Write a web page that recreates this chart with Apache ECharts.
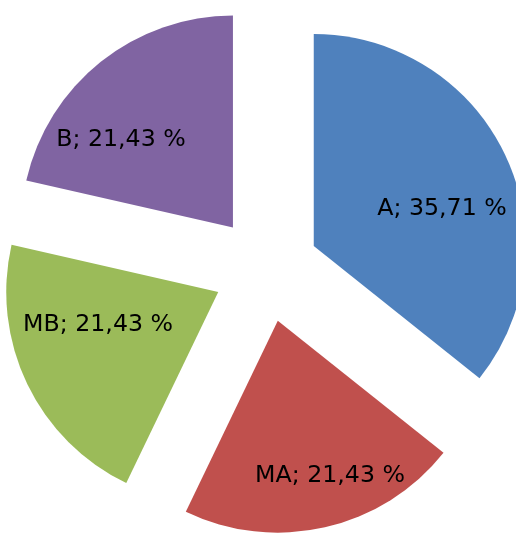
<!DOCTYPE html>
<html>
<head>
<meta charset="utf-8">
<script src="https://cdn.jsdelivr.net/npm/echarts@6/dist/echarts.min.js"></script>
<style>
  html, body { margin: 0; padding: 0; background: #fff; }
  #chart { width: 516px; height: 534px; }
</style>
</head>
<body>
<div id="chart"></div>
<script>
  // categories + counts (A = 5/14, others 3/14)
  var categories = ['A', 'MA', 'MB', 'B'];
  var values = [5, 3, 3, 3];
  var colors = ['#4F81BD', '#C0504D', '#9BBB59', '#8064A2'];
  // label nudges from the default inside spot (best-fit look)
  var labelNudge = [[30, 10], [28, 49], [-22, -14], [-44, -2]];

  var chart = echarts.init(document.getElementById('chart'));

  var data = categories.map(function (name, i) {
    return { name: name, value: values[i], selected: true, itemStyle: { color: colors[i] } };
  });

  chart.setOption({
    backgroundColor: '#fff',
    animation: false,
    series: [{
      type: 'pie',
      center: [266, 269],
      radius: [0, 212],
      startAngle: 90,
      clockwise: true,
      selectedMode: 'multiple',
      selectedOffset: 53,
      avoidLabelOverlap: false,
      label: {
        show: true,
        position: 'inside',
        color: '#000',
        fontFamily: 'DejaVu Sans',
        fontSize: 23.7,
        formatter: function (p) {
          return p.name + '; ' + p.percent.toFixed(2).replace('.', ',') + ' %';
        }
      },
      labelLine: { show: false },
      emphasis: { disabled: true },
      select: { itemStyle: { borderWidth: 0 } },
      labelLayout: function (p) {
        var n = labelNudge[p.dataIndex];
        return { dx: n[0], dy: n[1] };
      },
      data: data
    }]
  });
</script>
</body>
</html>
